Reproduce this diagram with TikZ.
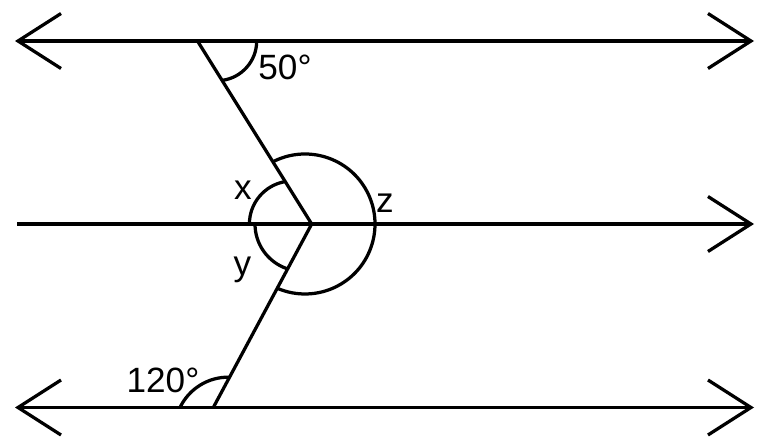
\documentclass[tikz,border=0pt]{standalone}
\usepackage{fontspec}
\setmainfont{Liberation Sans}
\usetikzlibrary{arrows.meta}
\begin{document}
\begin{tikzpicture}[x=0.02cm,y=0.02cm,line width=1.85pt,
    chev/.tip={Straight Barb[length=8.6mm,width=11mm]},
    lbl/.style={anchor=base,inner sep=0pt,font=\fontsize{20}{24}\selectfont}]
    \useasboundingbox (0,0) rectangle (765,447);

    \coordinate (tl) at (15,406);  \coordinate (tr) at (754,406);
    \coordinate (ml) at (17,223);  \coordinate (mr) at (754,223);
    \coordinate (bl) at (15,39.5); \coordinate (br) at (754,39.5);
    \coordinate (A) at (197.5,406);
    \coordinate (O) at (311.7,223);
    \coordinate (B) at (213.3,39.5);

    \draw[chev-chev] (tl) -- (tr);
    \draw[-chev]     (ml) -- (mr);
    \draw[chev-chev] (bl) -- (br);
    \draw (A) -- (O) -- (B);

    % angle marks
    \draw (256.7,406) arc[start angle=0,end angle=-82.6,radius=39.7];
    \draw (249.4,223) arc[start angle=180,end angle=99.5,radius=43];
    \draw (255,223) arc[start angle=180,end angle=251,radius=47.2];
    \draw (272.9,285.2) arc[start angle=117.3,end angle=-113.4,radius=70];
    \draw (180,39.5) arc[start angle=154.3,end angle=88.7,radius=53.6];

    \node[lbl] (a50)  at (285,367)  {50°};
    \node[lbl] (ax)   at (243,247)  {x};
    \node[lbl] (ay)   at (242.5,172) {y};
    \node[lbl] (az)   at (385,234.7) {z};
    \node[lbl] (a120) at (163,54.7) {120°};
\end{tikzpicture}
\end{document}
